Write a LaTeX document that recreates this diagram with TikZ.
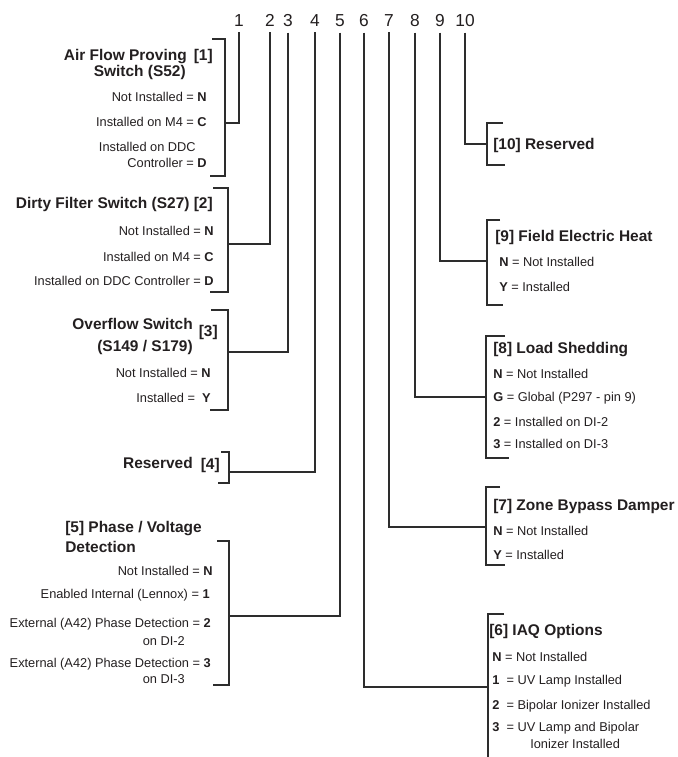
\documentclass[tikz,border=0pt]{standalone}
\usepackage{fontspec}
\setmainfont{Liberation Sans}
\usepackage{xcolor}
\definecolor{txtgray}{RGB}{35,31,32}
\definecolor{linegray}{RGB}{45,45,45}

\begin{document}
\begin{tikzpicture}[x=0.75pt,y=-0.75pt,
    num/.style={font=\fontsize{13}{15}\selectfont,text=txtgray,inner sep=0pt,outer sep=4.8pt,anchor=base},
    ttl/.style={font=\fontsize{11.6}{14}\selectfont\bfseries,text=txtgray,inner sep=0pt},
    opt/.style={font=\fontsize{9.6}{11}\selectfont,text=txtgray,inner sep=0pt},
    wire/.style={draw=linegray,line width=0.8pt}]
    \useasboundingbox (0,0) rectangle (678,757);

    % digit positions
    \node[num] (n1)  at (239,26) {1};
    \node[num] (n2)  at (270,26) {2};
    \node[num] (n3)  at (288,26) {3};
    \node[num] (n4)  at (315,26) {4};
    \node[num] (n5)  at (340,26) {5};
    \node[num] (n6)  at (364,26) {6};
    \node[num] (n7)  at (389,26) {7};
    \node[num] (n8)  at (415,26) {8};
    \node[num] (n9)  at (440,26) {9};
    \node[num] (n10) at (465,26) {10};

    % [1] air flow proving switch
    \node[ttl,anchor=base east] (air)   at (187,60) {Air Flow Proving};
    \node[ttl,anchor=base east] (air1)  at (213,60) {[1]};
    \node[ttl,anchor=base east] (airb)  at (186,76) {Switch (S52)};
    \node[opt,anchor=base east] (air-n) at (207,101) {Not Installed = \textbf{N}};
    \node[opt,anchor=base east] (air-c) at (207,126) {Installed on M4 = \textbf{C}};
    \node[opt,anchor=base east] (air-d) at (196,151) {Installed on DDC};
    \node[opt,anchor=base east] (air-e) at (207,167) {Controller = \textbf{D}};
    \draw[wire] (212,39) -- (225,39) -- (225,176) -- (210,176);
    \coordinate (j1) at (225,123);

    % [2] dirty filter switch
    \node[ttl,anchor=base east] (dfs)   at (213,208) {Dirty Filter Switch (S27) [2]};
    \node[opt,anchor=base east] (dfs-n) at (214,235) {Not Installed = \textbf{N}};
    \node[opt,anchor=base east] (dfs-c) at (214,261) {Installed on M4 = \textbf{C}};
    \node[opt,anchor=base east] (dfs-d) at (214,285) {Installed on DDC Controller = \textbf{D}};
    \draw[wire] (213,188) -- (228,188) -- (228,292) -- (210,292);
    \coordinate (j2) at (228,244);

    % [3] overflow switch
    \node[ttl,anchor=base east] (ovf)   at (193,329) {Overflow Switch};
    \node[ttl,anchor=base east] (ovfb)  at (193,351) {(S149 / S179)};
    \node[ttl,anchor=base east] (ovf3)  at (218,336) {[3]};
    \node[opt,anchor=base east] (ovf-n) at (211,377) {Not Installed = \textbf{N}};
    \node[opt,anchor=base east] (ovf-y) at (211,402) {Installed =\ \ \textbf{Y}};
    \draw[wire] (211,310) -- (228,310) -- (228,410) -- (210,410);
    \coordinate (j3) at (228,352);

    % [4] reserved
    \node[ttl,anchor=base east] (rsv)  at (193,468) {Reserved};
    \node[ttl,anchor=base east] (rsv4) at (220,469) {[4]};
    \draw[wire] (221,452) -- (229,452) -- (229,483) -- (218,483);
    \coordinate (j4) at (229,472);

    % [5] phase / voltage detection
    \node[ttl,anchor=base west] (pvd)   at (65,532) {[5] Phase / Voltage};
    \node[ttl,anchor=base west] (pvdb)  at (65,552) {Detection};
    \node[opt,anchor=base east] (pvd-n) at (213,575) {Not Installed =\ \textbf{N}};
    \node[opt,anchor=base east] (pvd-1) at (210,598) {Enabled Internal (Lennox) = \textbf{1}};
    \node[opt,anchor=base east] (pvd-2) at (211,627) {External (A42) Phase Detection = \textbf{2}};
    \node[opt,anchor=base east] (pvd-2b) at (185,645) {on DI-2};
    \node[opt,anchor=base east] (pvd-3) at (211,667) {External (A42) Phase Detection = \textbf{3}};
    \node[opt,anchor=base east] (pvd-3b) at (185,683) {on DI-3};
    \draw[wire] (217,541) -- (229,541) -- (229,685) -- (213,685);
    \coordinate (j5) at (229,616);

    % [10] reserved
    \node[ttl,anchor=base west] (rsx) at (493,149) {[10] Reserved};
    \draw[wire] (503,123) -- (487,123) -- (487,165) -- (505,165);
    \coordinate (j10) at (487,144);

    % [9] field electric heat
    \node[ttl,anchor=base west] (feh)   at (495,241) {[9] Field Electric Heat};
    \node[opt,anchor=base west] (feh-n) at (499,266) {\textbf{N} = Not Installed};
    \node[opt,anchor=base west] (feh-y) at (499,291) {\textbf{Y} = Installed};
    \draw[wire] (500,220) -- (487,220) -- (487,305) -- (503,305);
    \coordinate (j9) at (487,261);

    % [8] load shedding
    \node[ttl,anchor=base west] (lsh)   at (493,353) {[8] Load Shedding};
    \node[opt,anchor=base west] (lsh-n) at (493,378) {\textbf{N} = Not Installed};
    \node[opt,anchor=base west] (lsh-g) at (493,401) {\textbf{G} = Global (P297 - pin 9)};
    \node[opt,anchor=base west] (lsh-2) at (493,426) {\textbf{2} = Installed on DI-2};
    \node[opt,anchor=base west] (lsh-3) at (493,448) {\textbf{3} = Installed on DI-3};
    \draw[wire] (505,336) -- (486,336) -- (486,458) -- (509,458);
    \coordinate (j8) at (486,397);

    % [7] zone bypass damper
    \node[ttl,anchor=base west] (zbd)   at (493,510) {[7] Zone Bypass Damper};
    \node[opt,anchor=base west] (zbd-n) at (493,535) {\textbf{N} = Not Installed};
    \node[opt,anchor=base west] (zbd-y) at (493,559) {\textbf{Y} = Installed};
    \draw[wire] (500,487) -- (486,487) -- (486,565) -- (505,565);
    \coordinate (j7) at (486,527);

    % [6] iaq options
    \node[ttl,anchor=base west] (iaq)   at (489,635) {[6] IAQ Options};
    \node[opt,anchor=base west] (iaq-n) at (492,661) {\textbf{N} = Not Installed};
    \node[opt,anchor=base west] (iaq-1) at (492,684) {\textbf{1}\ \ = UV Lamp Installed};
    \node[opt,anchor=base west] (iaq-2) at (492,709) {\textbf{2}\ \ = Bipolar Ionizer Installed};
    \node[opt,anchor=base west] (iaq-3) at (492,731) {\textbf{3}\ \ = UV Lamp and Bipolar};
    \node[opt,anchor=base west] (iaq-3b) at (530,748) {Ionizer Installed};
    \draw[wire] (504,614) -- (488,614) -- (488,757);
    \coordinate (j6) at (488,687);

    % digit leads
    \draw[wire] (n1.south)  |- (j1);
    \draw[wire] (n2.south)  |- (j2);
    \draw[wire] (n3.south)  |- (j3);
    \draw[wire] (n4.south)  |- (j4);
    \draw[wire] (n5.south)  |- (j5);
    \draw[wire] (n6.south)  |- (j6);
    \draw[wire] (n7.south)  |- (j7);
    \draw[wire] (n8.south)  |- (j8);
    \draw[wire] (n9.south)  |- (j9);
    \draw[wire] (n10.south) |- (j10);
\end{tikzpicture}
\end{document}
